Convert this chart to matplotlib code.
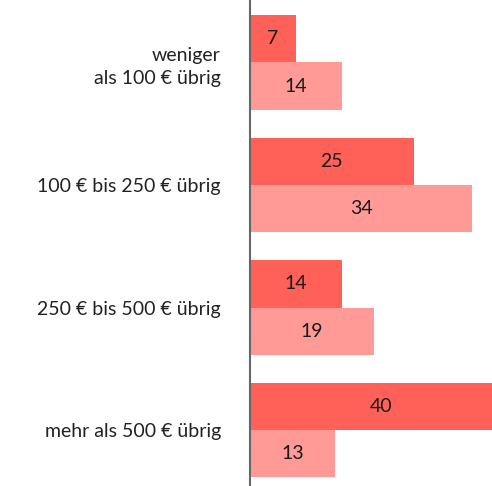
import matplotlib
matplotlib.use("Agg")
import matplotlib.pyplot as plt
import numpy as np

categories = ["weniger\nals 100 € übrig", "100 € bis 250 € übrig", "250 € bis 500 € übrig", "mehr als 500 € übrig"]
series_a = [7, 25, 14, 40]
series_b = [14, 34, 19, 13]

color_a = "#FF6058"
color_b = "#FF9A96"

plt.rcParams['font.family'] = ['Lato', 'DejaVu Sans']

fig = plt.figure(figsize=(4.92, 4.86), dpi=100)
ax = fig.add_axes([250/492, 0, 242/492, 1])

y = np.arange(len(categories))
h = 0.384
bars_a = ax.barh(y - h/2, series_a, height=h, color=color_a, zorder=2)
bars_b = ax.barh(y + h/2, series_b, height=h, color=color_b, zorder=2)

for bars, vals in ((bars_a, series_a), (bars_b, series_b)):
    for b, v in zip(bars, vals):
        ax.text(v / 2, b.get_y() + b.get_height()/2, str(v), ha="center", va="center",
                fontsize=14, color="#1a1a1a", clip_on=False)

ax.set_xlim(0, 37.0)
ax.set_ylim(3 + 56/122.5, -62.5/122.5)
ax.set_yticks(y)
ax.set_yticklabels(categories, fontsize=14, color="#222222", ha="right", multialignment="right",
                   linespacing=1.45)
ax.tick_params(axis="y", length=0, pad=21)
ax.set_xticks([])
for s in ["top", "right", "bottom"]:
    ax.spines[s].set_visible(False)
ax.spines["left"].set_color("#666666")
ax.spines["left"].set_linewidth(1.5)
ax.spines["left"].set_zorder(3)

fig.savefig("out.png", dpi=100)
